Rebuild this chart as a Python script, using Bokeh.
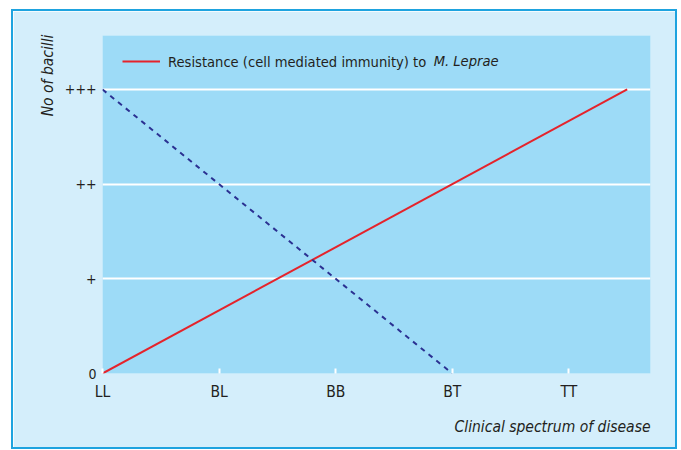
from bokeh.plotting import figure
from bokeh.models import Range1d, Legend, LegendItem, Label, FixedTicker, Title
from bokeh.embed import file_html
from bokeh.resources import INLINE

# ---- data ----
categories = ["LL", "BL", "BB", "BT", "TT"]
category_pos = [0, 1, 2, 3, 4]
y_labels = ["0", "+", "++", "+++"]
y_pos = [0, 1, 2, 3]
resistance_x = [0, 4.5]
resistance_y = [0, 3]
bacilli_x = [0, 3]
bacilli_y = [3, 0]
legend_text = "Resistance (cell mediated immunity) to"
legend_italic = "M. Leprae"
y_title = "No of bacilli"
x_title = "Clinical spectrum of disease"

FONT = "'DejaVu Sans Condensed', Roboto, sans-serif"
OUTER = "#d4eefb"
INNER = "#9ddbf7"
TEXT = "#231f20"

p = figure(width=666, height=440, output_backend="svg", toolbar_location=None,
           x_range=Range1d(0, 4.7), y_range=Range1d(0, 3.57),
           min_border_left=89, min_border_right=29, min_border_top=24, min_border_bottom=78)
p.styles = {"border": "2px solid #1ea3df", "margin-left": "11px", "margin-top": "9px"}
p.background_fill_color = INNER
p.border_fill_color = OUTER
p.outline_line_color = None

r_red = p.line(resistance_x, resistance_y, line_color="#e5232b", line_width=2)
p.line(bacilli_x, bacilli_y, line_color="#2b3192", line_width=2, line_dash="5 5")

# axes
p.xaxis.ticker = FixedTicker(ticks=category_pos)
p.xaxis.major_label_overrides = {k: v for k, v in zip(category_pos, categories)}
p.yaxis.ticker = FixedTicker(ticks=y_pos)
p.yaxis.major_label_overrides = {k: v for k, v in zip(y_pos, y_labels)}
for ax in (p.xaxis, p.yaxis):
    ax.axis_line_color = None
    ax.minor_tick_line_color = None
    ax.major_label_text_font = FONT
    ax.major_label_text_color = TEXT
p.xaxis.major_label_text_font_size = "15.5px"
p.yaxis.major_label_text_font_size = "14px"
p.xaxis.major_tick_line_color = "white"
p.xaxis.major_tick_line_width = 2
p.xaxis.major_tick_in = 5
p.xaxis.major_tick_out = 0
p.xaxis.major_label_standoff = 9
p.yaxis.major_tick_line_color = None
p.yaxis.major_label_standoff = 0

p.xgrid.grid_line_color = None
p.ygrid.grid_line_color = "white"
p.ygrid.grid_line_width = 2

legend = Legend(items=[LegendItem(label=legend_text, renderers=[r_red])],
                location=(20, 302), background_fill_alpha=0, border_line_color=None,
                padding=0, margin=0, glyph_width=38, glyph_height=20, label_standoff=8,
                label_text_font=FONT, label_text_font_size="14.6px", label_text_color=TEXT)
p.add_layout(legend)

p.add_layout(Label(x=2.84, y=3.31, text=legend_italic, text_font=FONT, text_font_style="italic",
                   text_font_size="14.6px", text_color=TEXT, text_baseline="middle"))

p.add_layout(Title(text=y_title, align="right", text_font=FONT, text_font_style="italic",
                   text_font_size="15.5px", text_color=TEXT, standoff=10, offset=-1), "left")
p.add_layout(Title(text=x_title, align="right", text_font=FONT, text_font_style="italic",
                   text_font_size="15.5px", text_color=TEXT, standoff=24), "below")

open("out.html", "w").write(file_html(p, INLINE))
